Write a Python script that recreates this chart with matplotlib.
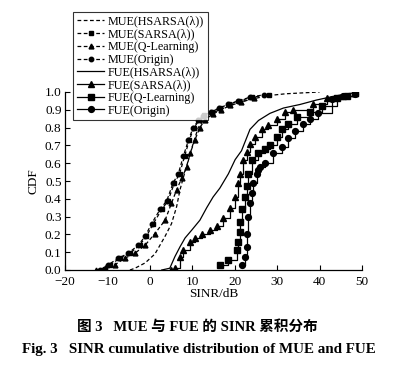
import matplotlib
matplotlib.use("Agg")
import matplotlib.pyplot as plt
from matplotlib.ticker import FormatStrFormatter

plt.rcParams['font.family'] = ['Liberation Serif', 'Noto Sans CJK SC', 'DejaVu Sans']

# MUE kurven (gestrichelt)
mue_hs_x = [-4.7, -3.5, -1.1, 1.2, 3.6, 5.1, 6.3, 7.1, 7.9, 9.1, 10.2, 11.4, 12.6, 14.5, 16.5, 18.5, 21.0, 24.0, 28.0, 32.0, 40.0]
mue_hs_y = [0.0, 0.01, 0.04, 0.09, 0.19, 0.26, 0.355, 0.45, 0.52, 0.62, 0.71, 0.80, 0.84, 0.88, 0.90, 0.92, 0.94, 0.96, 0.98, 0.99, 1.0]

mue_sa_x = [-10.5, -9.4, -7.0, -4.7, -2.4, -0.8, 0.8, 2.8, 4.3, 5.8, 7.0, 8.2, 9.3, 10.4, 11.6, 12.8, 14.6, 16.6, 18.6, 21.0, 24.0, 28.0]
mue_sa_y = [0.005, 0.03, 0.066, 0.094, 0.14, 0.19, 0.26, 0.34, 0.39, 0.49, 0.54, 0.64, 0.73, 0.80, 0.84, 0.87, 0.89, 0.91, 0.93, 0.95, 0.97, 0.985]

mue_ql_x = [-12.6, -10.6, -8.2, -5.9, -3.5, -1.1, 1.2, 3.6, 5.1, 6.3, 7.5, 8.7, 9.5, 10.6, 11.8, 13.0, 14.8, 16.8, 19.0, 21.5, 24.5]
mue_ql_y = [0.0, 0.01, 0.03, 0.066, 0.094, 0.14, 0.205, 0.28, 0.375, 0.45, 0.515, 0.58, 0.655, 0.73, 0.80, 0.845, 0.875, 0.90, 0.925, 0.945, 0.965]

mue_or_x = [-11.8, -9.8, -7.4, -5.1, -2.7, -1.1, 0.4, 2.4, 4.0, 5.5, 6.7, 7.9, 9.1, 10.2, 11.4, 12.6, 14.4, 16.4, 18.4, 20.8, 23.5, 27.0]
mue_or_y = [0.0, 0.03, 0.066, 0.094, 0.14, 0.19, 0.26, 0.34, 0.39, 0.49, 0.54, 0.64, 0.73, 0.80, 0.84, 0.865, 0.89, 0.91, 0.93, 0.95, 0.97, 0.985]

# FUE kurven (durchgezogen)
fue_hs_x = [2.8, 4.7, 5.9, 7.1, 8.3, 9.9, 11.8, 13.4, 14.9, 16.5, 18.5, 20.1, 21.6, 23.6, 25.6, 28.3, 31.5, 35.4, 39.3, 43.2, 46.4, 48.4]
fue_hs_y = [0.0, 0.01, 0.075, 0.13, 0.18, 0.225, 0.28, 0.35, 0.41, 0.46, 0.54, 0.62, 0.67, 0.79, 0.84, 0.88, 0.91, 0.93, 0.955, 0.975, 0.99, 0.995]

fue_sa_x = [5.0, 5.9, 7.1, 7.9, 9.5, 10.6, 12.2, 14.2, 15.8, 17.3, 18.9, 20.1, 20.8, 21.2, 22.0, 22.8, 23.6, 24.8, 26.4, 27.9, 29.9, 31.9, 33.8, 38.5, 41.7, 45.6, 48.4]
fue_sa_y = [0.0, 0.01, 0.075, 0.11, 0.16, 0.18, 0.205, 0.225, 0.25, 0.29, 0.35, 0.41, 0.49, 0.54, 0.62, 0.665, 0.71, 0.75, 0.79, 0.815, 0.85, 0.89, 0.90, 0.935, 0.965, 0.98, 0.995]

fue_ql_x = [16.5, 18.5, 20.5, 20.8, 21.2, 21.2, 21.6, 22.4, 22.8, 23.2, 24.0, 25.6, 27.1, 28.3, 29.9, 31.1, 32.6, 34.6, 37.7, 40.5, 44.0, 46.4, 48.4]
fue_ql_y = [0.03, 0.056, 0.11, 0.16, 0.215, 0.27, 0.34, 0.41, 0.47, 0.54, 0.62, 0.655, 0.68, 0.70, 0.75, 0.79, 0.82, 0.86, 0.89, 0.92, 0.965, 0.98, 0.995]

fue_or_x = [21.6, 22.4, 22.8, 22.8, 23.2, 23.6, 24.0, 24.4, 25.2, 25.6, 26.0, 27.1, 29.1, 31.1, 32.6, 34.2, 36.2, 37.7, 39.7, 43.0, 45.5, 48.3]
fue_or_y = [0.03, 0.075, 0.13, 0.2, 0.3, 0.375, 0.43, 0.49, 0.54, 0.56, 0.58, 0.60, 0.655, 0.69, 0.74, 0.78, 0.82, 0.85, 0.88, 0.96, 0.975, 0.99]

fig = plt.figure(figsize=(3.94, 3.69), dpi=100)
ax = fig.add_axes([65/394, 1-270/369, 297/394, 178/369])

ax.plot(mue_hs_x, mue_hs_y, 'k--', lw=0.9, dashes=(3, 2), label='MUE(HSARSA(λ))')
ax.plot(mue_sa_x, mue_sa_y, 'k--', lw=0.9, dashes=(3, 2), marker='s', ms=3.2, label='MUE(SARSA(λ))')
ax.plot(mue_ql_x, mue_ql_y, 'k--', lw=0.9, dashes=(3, 2), marker='^', ms=3.5, label='MUE(Q-Learning)')
ax.plot(mue_or_x, mue_or_y, 'k--', lw=0.9, dashes=(3, 2), marker='o', ms=3.2, label='MUE(Origin)')
ax.plot(fue_hs_x, fue_hs_y, 'k-', lw=0.9, label='FUE(HSARSA(λ))')
ax.plot(fue_sa_x, fue_sa_y, 'k-', lw=0.9, marker='^', ms=4.5, drawstyle='steps-post', label='FUE(SARSA(λ))')
ax.plot(fue_ql_x, fue_ql_y, 'k-', lw=0.9, marker='s', ms=4.2, drawstyle='steps-post', label='FUE(Q-Learning)')
ax.plot(fue_or_x, fue_or_y, 'k-', lw=0.9, marker='o', ms=4.2, drawstyle='steps-post', label='FUE(Origin)')

ax.set_xlim(-20, 50)
ax.set_ylim(0, 1.0)
ax.set_xticks(range(-20, 51, 10))
ax.set_yticks([i / 10 for i in range(11)])
ax.yaxis.set_major_formatter(FormatStrFormatter('%.1f'))
ax.tick_params(direction='in', length=3.5, width=0.8, labelsize=9.5)
ax.tick_params(axis='x', pad=4)
ax.tick_params(axis='y', pad=2.5)
for s in ['top', 'right']:
    ax.spines[s].set_visible(False)
for s in ['left', 'bottom']:
    ax.spines[s].set_linewidth(0.9)
ax.set_xlabel('SINR/dB', fontsize=9.5, labelpad=0.5)
ax.set_ylabel('CDF', fontsize=9.5, labelpad=4)

leg = fig.legend(loc='upper left', bbox_to_anchor=(73/394, 1-12/369), borderaxespad=0,
                 fontsize=8.7, labelspacing=0.06, handlelength=2.3, handletextpad=0.3,
                 borderpad=0.3, frameon=True, fancybox=False, edgecolor='k')
leg.get_frame().set_linewidth(0.8)

fig.text(0.5, 1-327/369, '图 3   MUE 与 FUE 的 SINR 累积分布', ha='center', va='center',
         fontsize=10.5, fontweight='bold')
fig.text(0.505, 1-349/369, 'Fig. 3   SINR cumulative distribution of MUE and FUE', ha='center', va='center',
         fontsize=10.8, fontweight='bold')

fig.savefig('out.png', dpi=100)
